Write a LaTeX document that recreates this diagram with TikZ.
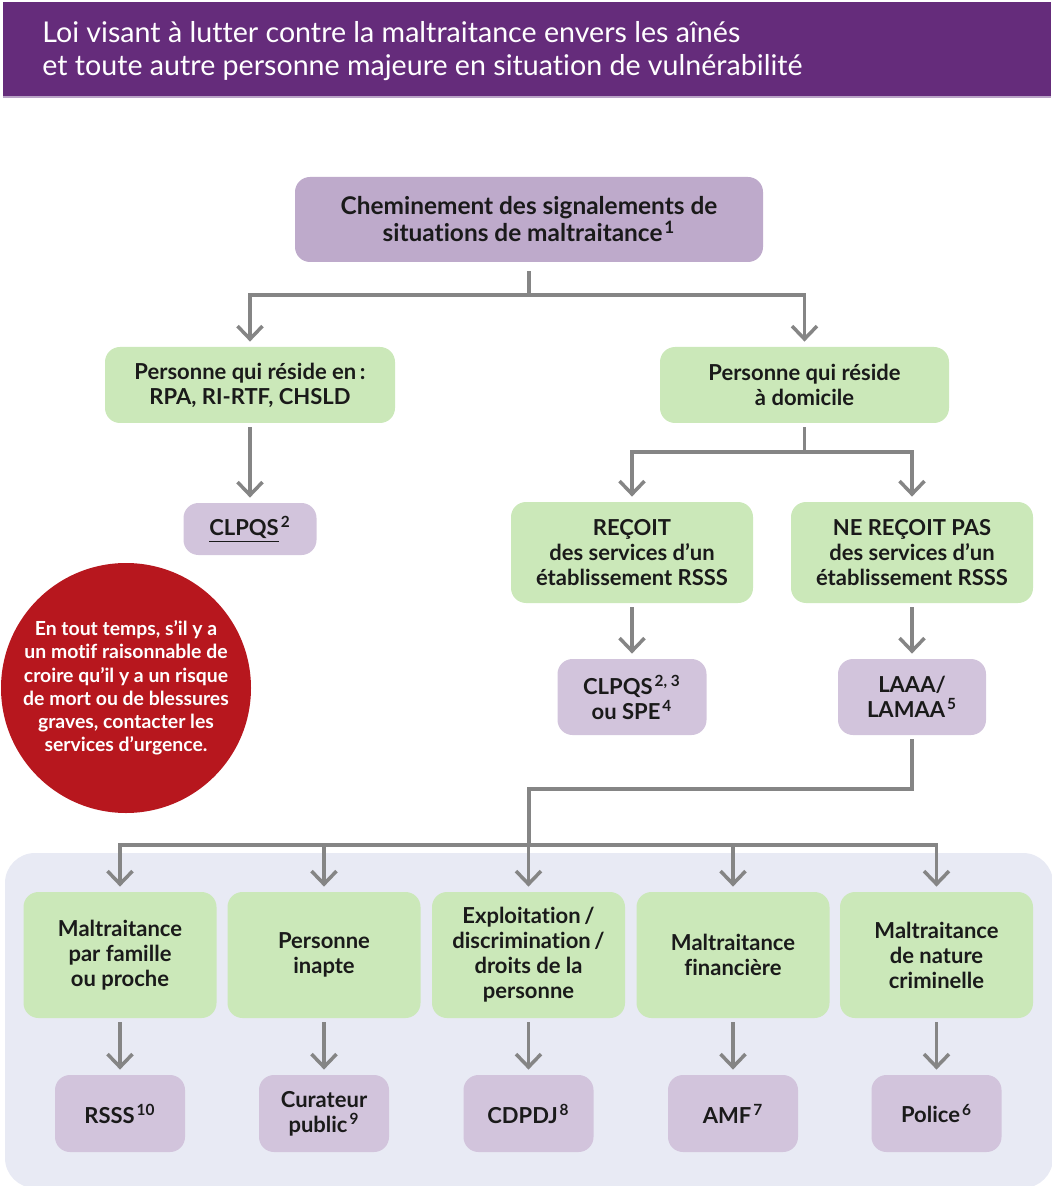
\documentclass[tikz,border=0pt]{standalone}
\usepackage{fontspec}
\setmainfont{Lato}[Ligatures={NoCommon}]
\usetikzlibrary{arrows.meta}
\definecolor{hdr}{HTML}{652C7B}
\definecolor{hdrline}{HTML}{B9A3C6}
\definecolor{lav}{HTML}{BEAACB}
\definecolor{lavl}{HTML}{D2C4DC}
\definecolor{grn}{HTML}{CBE8B9}
\definecolor{panel}{HTML}{E8EAF4}
\definecolor{redc}{HTML}{B7171E}
\definecolor{gry}{HTML}{858585}
\definecolor{txt}{HTML}{1A1A1A}
\newcommand{\msup}[1]{\kern1pt\textsuperscript{#1}}
\begin{document}
\begin{tikzpicture}[x=0.5pt,y=-0.5pt,
  basebox/.style={rounded corners=7.5pt, align=center, text=txt, inner sep=0pt,
     font=\bfseries\fontsize{11}{12.5}\selectfont},
  gbox/.style={basebox, fill=grn},
  pbox/.style={basebox, fill=lav},
  lbox/.style={basebox, fill=lavl},
  conn/.style={draw=gry, line width=1.75pt},
  arr/.style={conn, -{Straight Barb[length=6.5pt,width=12.5pt,line width=1.75pt]}, shorten >=2.5pt}
]
\useasboundingbox (0,0) rectangle (1051,1186);
% header
\fill[hdr] (3,2) rectangle (1051,96);
\fill[hdrline] (3,96) rectangle (1051,98);
\node[anchor=west, text=white, align=left, inner sep=0pt,
  font=\fontsize{14.3}{16.5}\selectfont] (title) at (42,51)
  {Loi visant à lutter contre la maltraitance envers les aînés\\
   et toute autre personne majeure en situation de vulnérabilité};
% bottom panel
\fill[panel, rounded corners=15pt] (5,853) rectangle (1053,1188);
% red circle
\node[circle, fill=redc, minimum size=125pt, inner sep=0pt, text=white, align=center,
  font=\bfseries\fontsize{9.7}{11.6}\selectfont] (urg) at (126,688)
  {En tout temps, s’il y a\\un motif raisonnable de\\croire qu’il y a un risque\\de mort ou de blessures\\graves, contacter les\\services d’urgence.};
% nodes
\node[pbox, minimum width=234pt, minimum height=42.5pt,
  font=\bfseries\fontsize{12.2}{13.5}\selectfont] (top) at (529,219.5)
  {Cheminement des signalements de\\situations de maltraitance\msup{1}};
\node[gbox, minimum width=145pt, minimum height=38pt] (lg) at (250,385)
  {Personne qui réside en\,:\\RPA, RI-RTF, CHSLD};
\node[gbox, minimum width=144.5pt, minimum height=38pt] (rg) at (804.5,385)
  {Personne qui réside\\à domicile};
\node[lbox, minimum width=66.5pt, minimum height=26pt] (clpqs) at (250,529)
  {\underline{CLPQS}\msup{2}};
\node[gbox, minimum width=121pt, minimum height=50.5pt] (rec) at (632,552.5)
  {REÇOIT\\des services d’un\\établissement RSSS};
\node[gbox, minimum width=121pt, minimum height=50.5pt] (nrec) at (912,552.5)
  {NE REÇOIT PAS\\des services d’un\\établissement RSSS};
\node[lbox, minimum width=74.5pt, minimum height=38pt] (clpqsb) at (632,697)
  {CLPQS\msup{2, 3}\\ou SPE\msup{4}};
\node[lbox, minimum width=74pt, minimum height=38pt] (laaa) at (912,697)
  {LAAA/\\LAMAA\msup{5}};
% bottom row
\foreach \n/\x/\t in {g1/120/{Maltraitance\\par famille\\ou proche},
                     g2/324/{Personne\\inapte},
                     g3/528.5/{Exploitation\,/\\discrimination\,/\\droits de la\\personne},
                     g4/733/{Maltraitance\\financière},
                     g5/936.5/{Maltraitance\\de nature\\criminelle}}
  \node[gbox, minimum width=96.5pt, minimum height=63pt] (\n) at (\x,955) {\t};
\foreach \n/\x/\t in {p1/120/{RSSS\msup{10}},
                     p2/324/{Curateur\\public\msup{9}},
                     p3/528.5/{CDPDJ\msup{8}},
                     p4/733/{AMF\msup{7}},
                     p5/936.5/{Police\msup{6}}}
  \node[lbox, minimum width=65pt, minimum height=38.5pt] (\n) at (\x,1113.5) {\t};
% connectors
\coordinate (j1) at (529,295);
\draw[conn] ([yshift=-4.5pt]top.south) -- (j1);
\draw[arr] (j1) -| (lg.north);
\draw[arr] (j1) -| (rg.north);
\draw[arr] ([yshift=-2pt]lg.south) -- (clpqs.north);
\coordinate (j2) at (804.5,452);
\draw[conn] ([yshift=-2pt]rg.south) -- (j2);
\draw[arr] (j2) -| (rec.north);
\draw[arr] (j2) -| (nrec.north);
\draw[arr] ([yshift=-2pt]rec.south) -- (clpqsb.north);
\draw[arr] ([yshift=-2pt]nrec.south) -- (laaa.north);
\coordinate (j3) at (912,789);
\coordinate (j4) at (529,789);
\coordinate (j5) at (529,845);
\draw[conn] ([yshift=-2pt]laaa.south) -- (j3) -- (j4) -- (j5);
\foreach \n in {g1,g2,g3,g4,g5} \draw[arr] (j5) -| (\n.north);
\foreach \a/\b in {g1/p1,g2/p2,g3/p3,g4/p4,g5/p5}
  \draw[arr] ([yshift=-2pt]\a.south) -- (\b.north);
\end{tikzpicture}
\end{document}
